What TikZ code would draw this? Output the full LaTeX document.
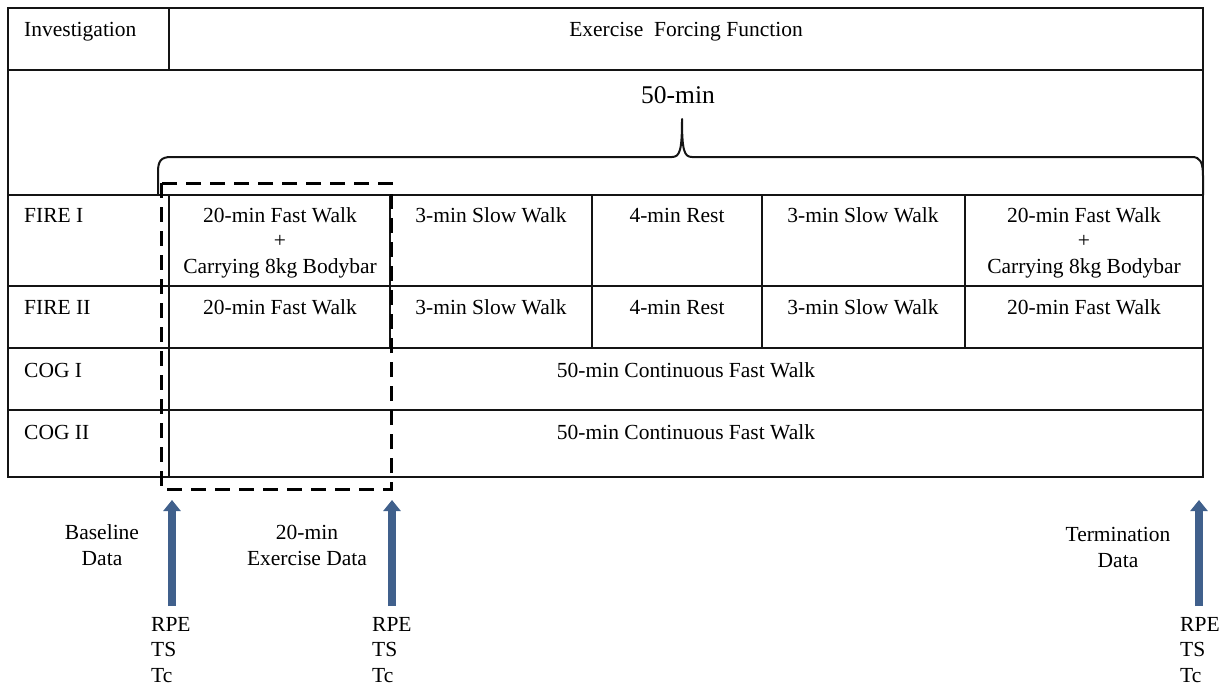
\documentclass[tikz,border=0pt]{standalone}
\usepackage{fontspec}
\setmainfont{Liberation Serif}
\usetikzlibrary{arrows.meta}
\definecolor{arrowblue}{RGB}{64,96,140}
\definecolor{linegray}{RGB}{20,20,20}
\tikzset{
  grid/.style={draw=linegray,line width=2pt},
  txt/.style={inner sep=0pt,font=\fontsize{21.5}{25.5}\selectfont},
  lbl/.style={txt,anchor=base west,align=left},
  ctr/.style={txt,anchor=base,align=center},
  dashbox/.style={draw=black,line width=3pt,dash pattern=on 15pt off 9pt},
  bracepath/.style={draw=linegray,line width=2pt,line join=round},
  uparrow/.style={draw=arrowblue,line width=8.5pt,-{Triangle[width=17pt,length=11pt]}},
}
\begin{document}
\begin{tikzpicture}[x=1pt,y=-1pt]
\useasboundingbox (0,0) rectangle (1226,688);
% table
\draw[grid] (8,8) rectangle (1203,477);
\draw[grid] (8,70) -- (1203,70);
\draw[grid] (8,195) -- (1203,195);
\draw[grid] (8,286) -- (1203,286);
\draw[grid] (8,348) -- (1203,348);
\draw[grid] (8,410) -- (1203,410);
\draw[grid] (169,8) -- (169,70);
\draw[grid] (169,195) -- (169,477);
\foreach \x in {390,592,762,965} \draw[grid] (\x,195) -- (\x,348);
% brace
\draw[bracepath] (158,195) -- (158,172) .. controls (158,161) and (161,157) .. (171,157)
  -- (672,157) .. controls (680,157) and (682,150) .. (682,119)
  .. controls (682,150) and (684,157) .. (692,157)
  -- (1192,157) .. controls (1200,157) and (1203,162) .. (1203,176) -- (1203,195);
% dashed box
\draw[dashbox] (161,183) rectangle (391,489);
% header texts
\node[lbl] (inv) at (24,36) {Investigation};
\node[ctr] (eff) at (686,36) {Exercise\ \ Forcing Function};
\node[txt,anchor=base,font=\fontsize{25.5}{30}\selectfont] (fifty) at (678,103) {50-min};
% row labels
\node[lbl] (f1) at (24,222) {FIRE I};
\node[lbl] (f2) at (24,314) {FIRE II};
\node[lbl] (c1) at (24,377) {COG I};
\node[lbl] (c2) at (24,439) {COG II};
% FIRE I (multi-line nodes: base = last line)
\node[ctr] (f1a) at (280,273) {20-min Fast Walk\\+\\Carrying 8kg Bodybar};
\node[ctr] (f1b) at (491,222) {3-min Slow Walk};
\node[ctr] (f1c) at (677,222) {4-min Rest};
\node[ctr] (f1d) at (863,222) {3-min Slow Walk};
\node[ctr] (f1e) at (1084,273) {20-min Fast Walk\\+\\Carrying 8kg Bodybar};
% FIRE II
\node[ctr] (f2a) at (280,314) {20-min Fast Walk};
\node[ctr] (f2b) at (491,314) {3-min Slow Walk};
\node[ctr] (f2c) at (677,314) {4-min Rest};
\node[ctr] (f2d) at (863,314) {3-min Slow Walk};
\node[ctr] (f2e) at (1084,314) {20-min Fast Walk};
% COG
\node[ctr] (c1a) at (686,377) {50-min Continuous Fast Walk};
\node[ctr] (c2a) at (686,439) {50-min Continuous Fast Walk};
% arrows
\coordinate (a1s) at (172,606); \coordinate (a1e) at (172,500);
\coordinate (a2s) at (392,606); \coordinate (a2e) at (392,500);
\coordinate (a3s) at (1199,606); \coordinate (a3e) at (1199,500);
\draw[uparrow] (a1s) -- (a1e);
\draw[uparrow] (a2s) -- (a2e);
\draw[uparrow] (a3s) -- (a3e);
% bottom labels
\node[ctr] (base) at (102,565) {Baseline\\Data};
\node[ctr] (exd) at (307,565) {20-min\\Exercise Data};
\node[ctr] (term) at (1118,567) {Termination\\Data};
\node[lbl] (m1) at (151,682) {RPE\\TS\\Tc};
\node[lbl] (m2) at (372,682) {RPE\\TS\\Tc};
\node[lbl] (m3) at (1180,682) {RPE\\TS\\Tc};
\end{tikzpicture}
\end{document}
